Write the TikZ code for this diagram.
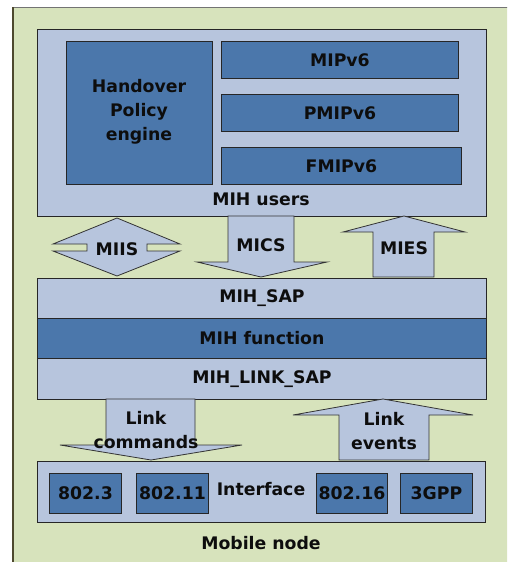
\documentclass[tikz,border=0pt]{standalone}
\usepackage{fontspec}
\setmainfont{DejaVu Sans}
\begin{document}
\begin{tikzpicture}[x=1pt,y=-1pt,
  lb/.style={draw=black!85, line width=0.9pt, fill=lightblue},
  db/.style={draw=black!85, line width=0.9pt, fill=darkblue},
  arr/.style={draw=black!80, line width=0.8pt, fill=lightblue},
  txt/.style={font=\fontsize{17.3}{20}\selectfont\bfseries, text=black!95, inner sep=0pt},
  txtm/.style={font=\fontsize{17.3}{24}\selectfont\bfseries, text=black!95, inner sep=0pt, align=center}]
\definecolor{lightgreen}{HTML}{D7E3BC}
\definecolor{lightblue}{HTML}{B7C5DD}
\definecolor{darkblue}{HTML}{4B77AB}
\useasboundingbox (0,0) rectangle (507,562);
\begin{scope}
\clip (0,0) rectangle (507,562);
\draw[fill=lightgreen, draw=black!55, line width=1pt] (13,7) rectangle (515,570);
\draw[draw=black!60!olive, line width=2pt] (13,7) -- (13,562);
\end{scope}
% MIH users
\node[lb, minimum width=449, minimum height=187, inner sep=0pt, anchor=north west] (users) at (37,29) {};
\node[db, minimum width=146, minimum height=143, anchor=north west] (hpe) at (66,41) {};
\node[txtm] at (139,112) {Handover\\Policy\\engine};
\node[db, minimum width=237, minimum height=37, anchor=north west] (mip) at (221,41) {};
\node[txt] at (mip.center) {MIPv6};
\node[db, minimum width=237, minimum height=37, anchor=north west] (pmip) at (221,94) {};
\node[txt] at (pmip.center) {PMIPv6};
\node[db, minimum width=240, minimum height=37, anchor=north west] (fmip) at (221,147) {};
\node[txt] at (fmip.center) {FMIPv6};
\node[txt] (userslbl) at (261,199) {MIH users};
% layers
\node[lb, minimum width=449, minimum height=40, anchor=north west, inner sep=0pt] (sap) at (37,278) {};
\node[txt] at (sap.center) {MIH\_SAP};
\node[db, minimum width=449, minimum height=40, anchor=north west, inner sep=0pt] (func) at (37,318) {};
\node[txt] at (func.center) {MIH function};
\node[lb, minimum width=449, minimum height=41, anchor=north west, inner sep=0pt] (lsap) at (37,358) {};
\node[txt] at (lsap.center) {MIH\_LINK\_SAP};
% MIIS up-down arrow
\draw[arr] (117,218) -- (180,244) -- (147,244) -- (147,251) -- (180,251) -- (117,276) -- (53,251) -- (87,251) -- (87,244) -- (53,244) -- cycle;
\node[txt] (miis) at (117,249) {MIIS};
% MICS down arrow
\draw[arr] (228,216) -- (294,216) -- (294,262) -- (327,262) -- (261,277) -- (197,262) -- (228,262) -- cycle;
\node[txt] (mics) at (261,245) {MICS};
% MIES up arrow
\draw[arr] (404,216) -- (465,232) -- (434,232) -- (434,277) -- (373,277) -- (373,232) -- (343,232) -- cycle;
\node[txt] (mies) at (404,248) {MIES};
% Link commands down arrow
\draw[arr] (106,399) -- (195,399) -- (195,445) -- (242,445) -- (151,460) -- (60,445) -- (106,445) -- cycle;
\node[txtm] (lcmd) at (146,430) {Link\\commands};
% Link events up arrow
\draw[arr] (383,399) -- (473,415) -- (429,415) -- (429,460) -- (339,460) -- (339,415) -- (293,415) -- cycle;
\node[txtm] (lev) at (384,431) {Link\\events};
% Interface
\node[lb, minimum width=448, minimum height=61, anchor=north west, inner sep=0pt] (iface) at (37,461) {};
\node[db, minimum width=72, minimum height=40, anchor=north west, inner sep=0pt] (e3) at (49,473) {};
\node[txt] at (e3.center) {802.3};
\node[db, minimum width=72, minimum height=40, anchor=north west, inner sep=0pt] (e11) at (136,473) {};
\node[txt] at (e11.center) {802.11};
\node[txt] (ifl) at (261,489) {Interface};
\node[db, minimum width=71, minimum height=40, anchor=north west, inner sep=0pt] (e16) at (316,473) {};
\node[txt] at (e16.center) {802.16};
\node[db, minimum width=72, minimum height=40, anchor=north west, inner sep=0pt] (g3) at (400,473) {};
\node[txt] at (g3.center) {3GPP};
\node[txt] (mn) at (261,543) {Mobile node};
\end{tikzpicture}
\end{document}
